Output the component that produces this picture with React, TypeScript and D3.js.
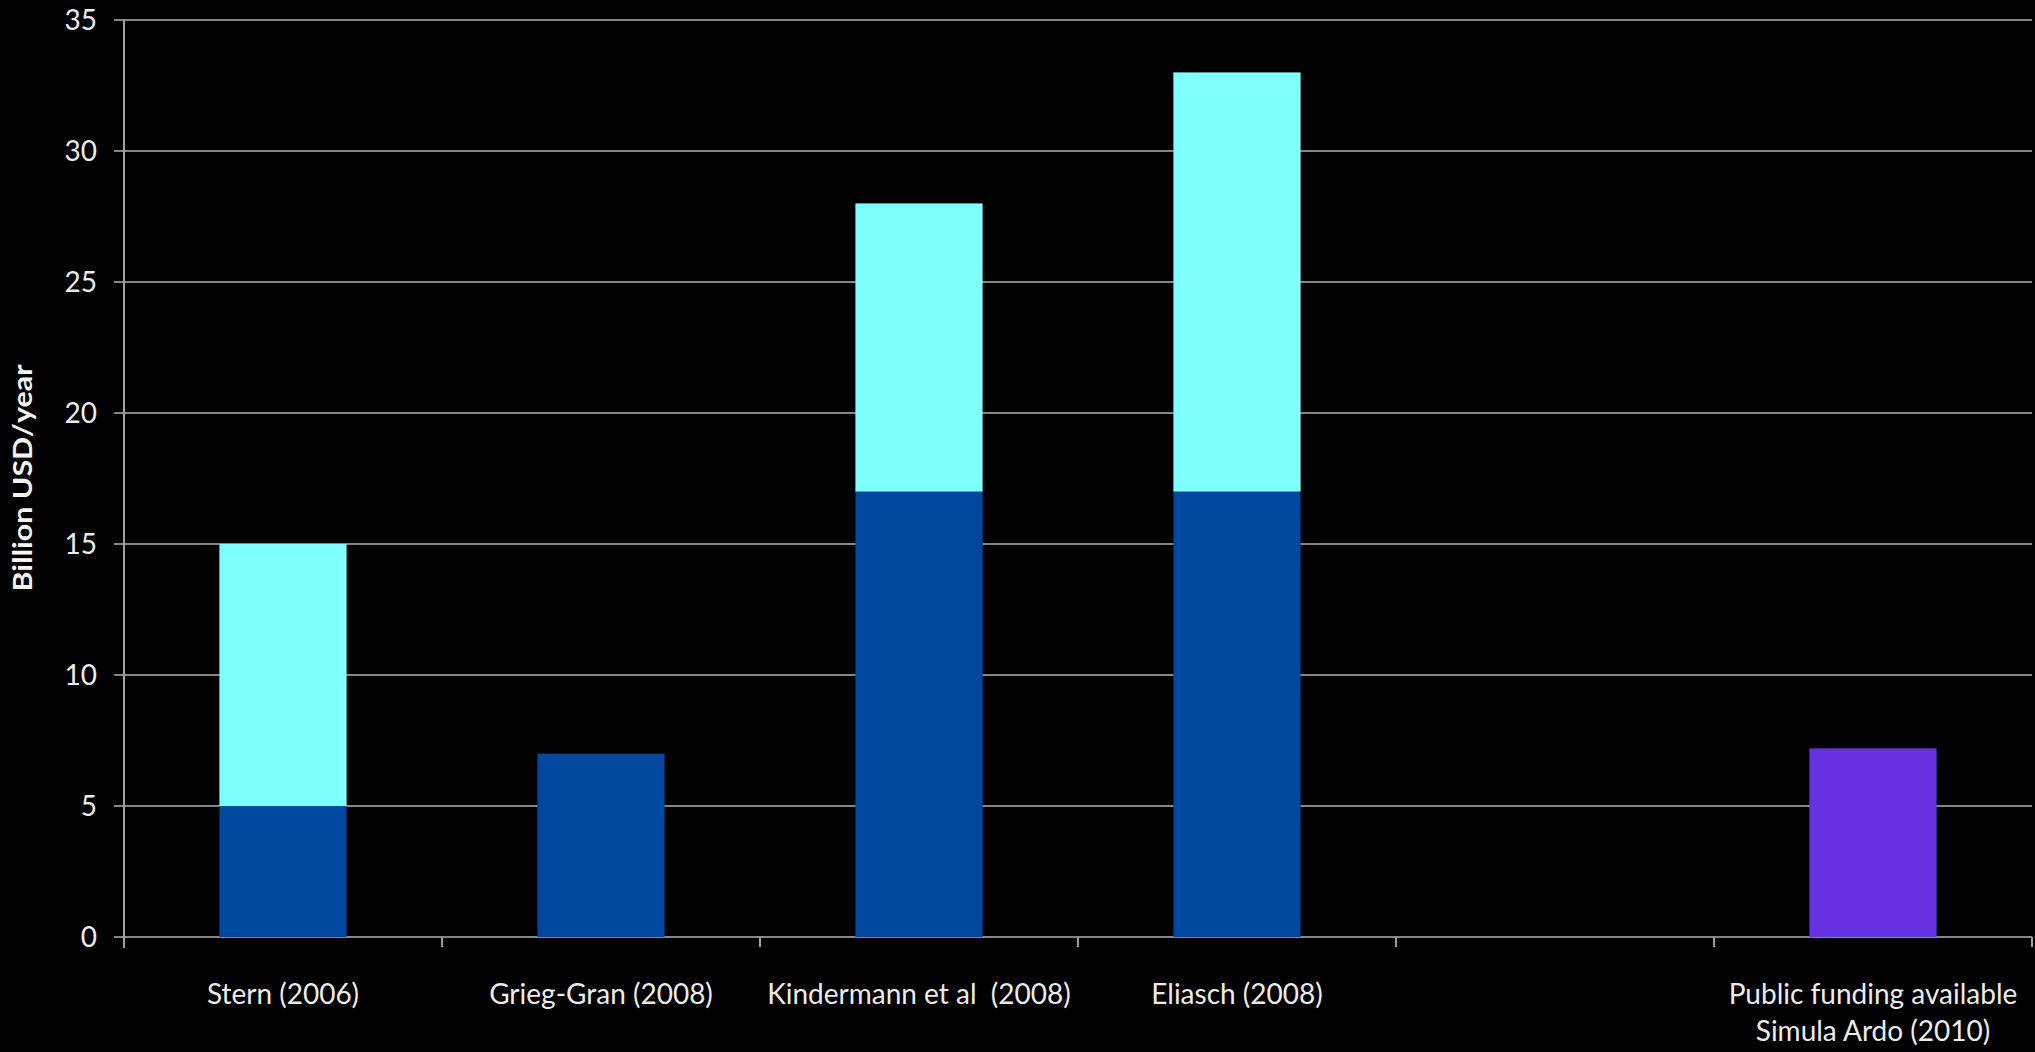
import React, { useEffect, useRef } from "react";
import * as d3 from "d3";

const categories: string[] = [
  "Stern (2006)",
  "Grieg-Gran (2008)",
  "Kindermann et al  (2008)",
  "Eliasch (2008)",
  "",
  "Public funding available\nSimula Ardo (2010)",
];
// lower estimate (dark blue)
const lowerValues: (number | null)[] = [5, 7, 17, 17, null, null];
// additional range to upper estimate (light cyan)
const upperExtra: (number | null)[] = [10, 0, 11, 16, null, null];
// public funding available (purple)
const publicValues: (number | null)[] = [null, null, null, null, null, 7.2];
const yTicks: number[] = [0, 5, 10, 15, 20, 25, 30, 35];
const yTitle = "Billion USD/year";

const W = 2035;
const H = 1052;
const FONT = "Lato, 'Open Sans', sans-serif";

export default function App() {
  const ref = useRef<SVGSVGElement>(null);

  useEffect(() => {
    document.body.style.margin = "0";
    document.body.style.background = "#000";
    const svg = d3.select(ref.current);
    svg.selectAll("*").remove();

    const left = 124;
    const right = 2032;
    const top = 20;
    const bottom = 937;

    const idx = categories.map((_, i) => String(i));
    const x = d3.scaleBand<string>().domain(idx).range([left, right]).paddingInner(0.6).paddingOuter(0.3);
    const y = d3.scaleLinear().domain([0, 35]).range([bottom, top]);

    svg.append("rect").attr("width", W).attr("height", H).attr("fill", "#000");

    // gridlines
    svg
      .append("g")
      .selectAll("line")
      .data(yTicks)
      .join("line")
      .attr("x1", left - 10)
      .attr("x2", right)
      .attr("y1", (d) => y(d))
      .attr("y2", (d) => y(d))
      .attr("stroke", "#858585")
      .attr("stroke-width", 2);

    // y tick labels
    svg
      .append("g")
      .selectAll("text")
      .data(yTicks)
      .join("text")
      .attr("x", 97)
      .attr("y", (d) => y(d) + 10)
      .attr("text-anchor", "end")
      .attr("font-family", FONT)
      .attr("font-size", 28)
      .attr("fill", "#ececec")
      .text((d) => String(d));

    // y axis line
    svg
      .append("line")
      .attr("x1", left)
      .attr("x2", left)
      .attr("y1", top)
      .attr("y2", bottom + 11)
      .attr("stroke", "#a0a0a0")
      .attr("stroke-width", 2);

    // x category tick marks
    const step = x.step();
    const boundaries = d3.range(1, categories.length + 1).map((i) => left + i * step);
    svg
      .append("g")
      .selectAll("line")
      .data(boundaries)
      .join("line")
      .attr("x1", (d) => d)
      .attr("x2", (d) => d)
      .attr("y1", bottom)
      .attr("y2", bottom + 10)
      .attr("stroke", "#a0a0a0")
      .attr("stroke-width", 2);

    const bw = x.bandwidth();
    const g = svg.append("g");
    // dark blue lower estimates
    g.selectAll("rect.low")
      .data(lowerValues.map((v, i) => ({ v, i })).filter((d) => d.v != null))
      .join("rect")
      .attr("class", "low")
      .attr("x", (d) => x(String(d.i))!)
      .attr("width", bw)
      .attr("y", (d) => y(d.v as number))
      .attr("height", (d) => y(0) - y(d.v as number))
      .attr("fill", "#00479d");
    // light cyan upper extra
    g.selectAll("rect.up")
      .data(
        upperExtra
          .map((v, i) => ({ v, i, base: lowerValues[i] }))
          .filter((d) => d.v != null && (d.v as number) > 0)
      )
      .join("rect")
      .attr("class", "up")
      .attr("x", (d) => x(String(d.i))!)
      .attr("width", bw)
      .attr("y", (d) => y((d.base as number) + (d.v as number)))
      .attr("height", (d) => y(d.base as number) - y((d.base as number) + (d.v as number)))
      .attr("fill", "#80ffff");
    // purple public funding
    g.selectAll("rect.pub")
      .data(publicValues.map((v, i) => ({ v, i })).filter((d) => d.v != null))
      .join("rect")
      .attr("class", "pub")
      .attr("x", (d) => x(String(d.i))!)
      .attr("width", bw)
      .attr("y", (d) => y(d.v as number))
      .attr("height", (d) => y(0) - y(d.v as number))
      .attr("fill", "#6733e0");

    // x labels
    const lab = svg.append("g");
    categories.forEach((c, i) => {
      if (!c) return;
      const cx = x(String(i))! + bw / 2;
      const t = lab
        .append("text")
        .attr("text-anchor", "middle")
        .attr("font-family", FONT)
        .attr("font-size", 28)
        .attr("fill", "#ececec")
        .style("white-space", "pre");
      c.split("\n").forEach((line, j) => {
        t.append("tspan")
          .attr("x", cx)
          .attr("y", 1004 + j * 37)
          .text(line);
      });
    });

    // y title
    svg
      .append("text")
      .attr("transform", `translate(32,478) rotate(-90)`)
      .attr("text-anchor", "middle")
      .attr("font-family", FONT)
      .attr("font-weight", "bold")
      .attr("font-size", 26)
      .attr("textLength", 227)
      .attr("lengthAdjust", "spacingAndGlyphs")
      .attr("fill", "#f4f4f4")
      .text(yTitle);
  }, []);

  return <svg ref={ref} width={W} height={H} style={{ display: "block" }} />;
}
